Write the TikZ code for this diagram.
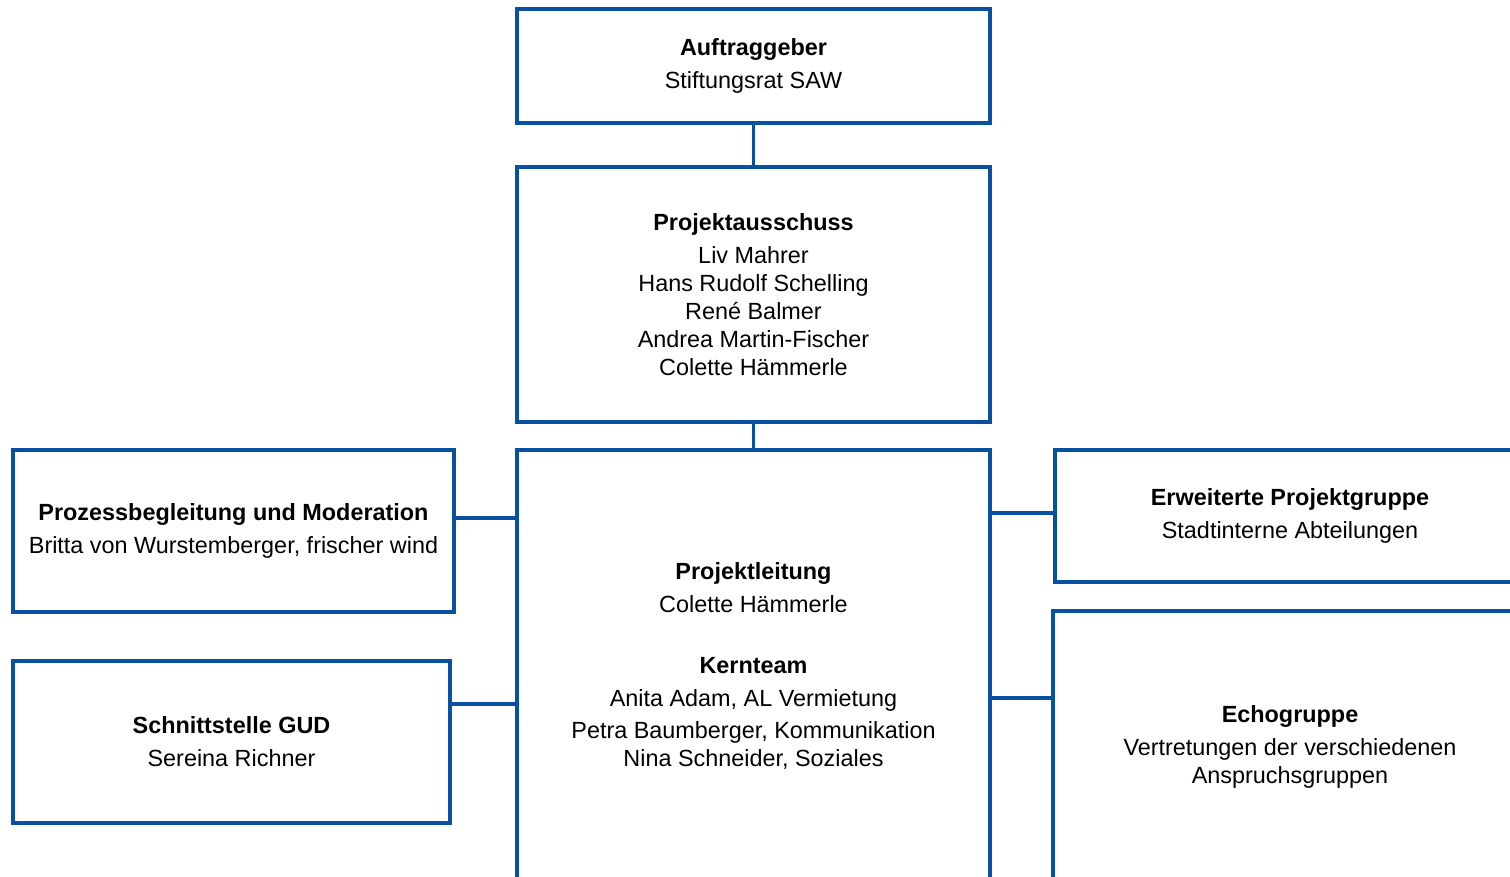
\documentclass[tikz,border=0pt]{standalone}
\usepackage{fontspec}
\setmainfont{Liberation Sans}
\usetikzlibrary{positioning}
\definecolor{sawblue}{RGB}{8,80,160}

\begin{document}
\begin{tikzpicture}[
      x=0.5pt, y=-0.5pt,
      font=\fontsize{11.7}{14}\selectfont,
      orgbox/.style={
        draw=sawblue, line width=1.7pt, align=center,
        inner sep=0pt, fill=white},
      link/.style={draw=sawblue, line width=1.7pt},
    ]
    \useasboundingbox (0,0) rectangle (1510,877);
    \clip (0,0) rectangle (1510,877);
    \fill[white] (0,0) rectangle (1510,877);

    % top chain
    \node[orgbox, minimum width=236.5pt, minimum height=57pt] (auftrag) at (753.5,66)
      {\textbf{Auftraggeber}\\[2.5pt]Stiftungsrat SAW};
    \node[orgbox, minimum width=236.5pt, minimum height=127.5pt] (ausschuss) at (753.5,294.5)
      {\textbf{Projektausschuss}\\[2.5pt]Liv Mahrer\\Hans Rudolf Schelling\\René Balmer\\Andrea Martin-Fischer\\Colette Hämmerle};
    \node[orgbox, minimum width=236.5pt, minimum height=216pt] (leitung) at (753.5,666)
      {\textbf{Projektleitung}\\[2.5pt]Colette Hämmerle\\[16.5pt]\textbf{Kernteam}\\[2.5pt]Anita Adam, AL Vermietung\\[2pt]Petra Baumberger, Kommunikation\\Nina Schneider, Soziales};

    % left side
    \node[orgbox, minimum width=220.5pt, minimum height=81pt] (prozess) at (233.5,531)
      {\textbf{Prozessbegleitung und Moderation}\\[2.5pt]Britta von Wurstemberger, frischer wind};
    \node[orgbox, minimum width=218.5pt, minimum height=81pt] (gud) at (231.5,742)
      {\textbf{Schnittstelle GUD}\\[2.5pt]Sereina Richner};

    % right side (cut off at the page edge)
    \node[orgbox, minimum width=235pt, minimum height=66pt] (erweitert) at (1290,516)
      {\textbf{Erweiterte Projektgruppe}\\[2.5pt]Stadtinterne Abteilungen};
    \node[orgbox, minimum width=237pt, minimum height=135.5pt] (echo) at (1290,746.5)
      {\textbf{Echogruppe}\\[2.5pt]Vertretungen der verschiedenen\\Anspruchsgruppen};

    \draw[link] (auftrag.south) -- (ausschuss.north);
    \draw[link] (ausschuss.south) -- (leitung.north);
    \draw[link] (prozess.east |- 0,518) -- (leitung.west |- 0,518);
    \draw[link] (gud.east |- 0,704) -- (leitung.west |- 0,704);
    \draw[link] (leitung.east |- 0,513) -- (erweitert.west |- 0,513);
    \draw[link] (leitung.east |- 0,698) -- (echo.west |- 0,698);
  \end{tikzpicture}
\end{document}
